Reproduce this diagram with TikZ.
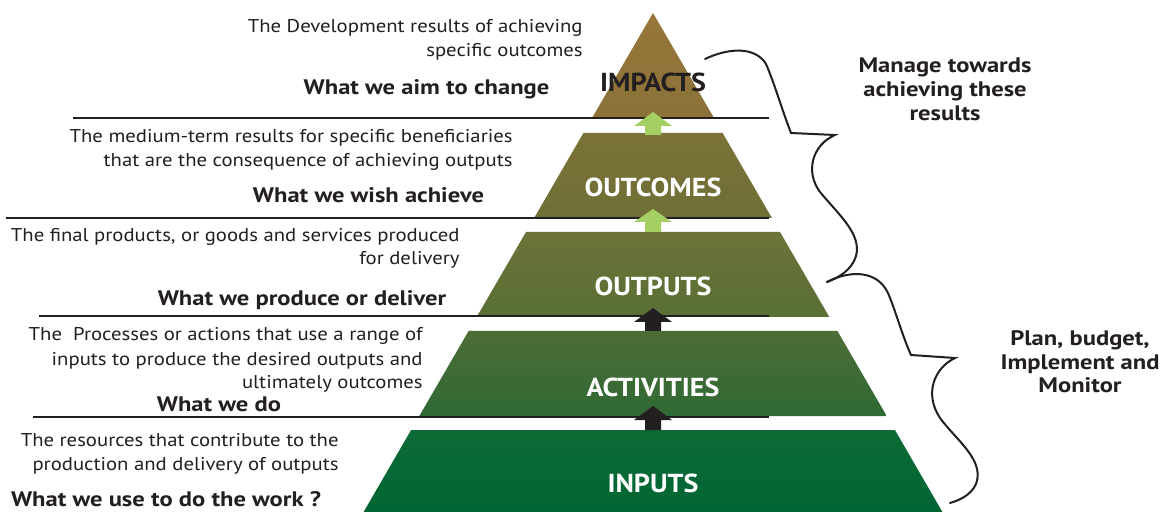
\documentclass[tikz,border=0pt]{standalone}
\usepackage{fontspec}
\setmainfont{PT Sans}
\newfontfamily\regfont{PT Sans}[FakeStretch=1.12]
\newfontfamily\lblfont{PT Sans}[FakeStretch=1.17]
\newfontfamily\lvlfont{PT Sans}[FakeStretch=1.08]
\definecolor{txt}{HTML}{231F20}
\definecolor{arrG}{HTML}{A6CF63}
\definecolor{impT}{HTML}{987639}
\definecolor{impB}{HTML}{8A7239}
\definecolor{outcT}{HTML}{7B7238}
\definecolor{outcB}{HTML}{6E6F36}
\definecolor{outpT}{HTML}{6D7339}
\definecolor{outpB}{HTML}{586F34}
\definecolor{actT}{HTML}{4E6C35}
\definecolor{actB}{HTML}{2F6935}
\definecolor{inT}{HTML}{0D6A35}
\definecolor{inB}{HTML}{006633}
\begin{document}
\begin{tikzpicture}[x=0.5pt,y=-0.5pt,
  desc/.style={font=\regfont\fontsize{9.25}{12}\selectfont, inner sep=0pt, anchor=base east, text=txt},
  lbl/.style={font=\lblfont\bfseries\fontsize{10.5}{13}\selectfont, inner sep=0pt, anchor=base, text=txt},
  lvl/.style={font=\lvlfont\bfseries\fontsize{13}{15}\selectfont, inner sep=0pt, anchor=base, text=white},
  sepline/.style={draw=txt, line width=0.75pt},
  brace/.style={draw=txt, line width=1pt, line join=miter, line cap=round}]
\fill[white] (0,0) rectangle (1165,512);
\useasboundingbox (0,0) rectangle (1165,512);

% pyramid levels
\shade[top color=impT, bottom color=impB] (653,13) -- (714,118) -- (592,118) -- cycle;
\shade[top color=outcT, bottom color=outcB] (583.4,133) -- (722.6,133) -- (771.9,218) -- (534.1,218) -- cycle;
\shade[top color=outpT, bottom color=outpB] (526,232) -- (780,232) -- (829.3,317) -- (476.7,317) -- cycle;
\shade[top color=actT, bottom color=actB] (468.6,331) -- (837.4,331) -- (886.7,416) -- (419.3,416) -- cycle;
\shade[top color=inT, bottom color=inB] (411.1,430) -- (894.9,430) -- (942.4,512) -- (363.6,512) -- cycle;

% separator lines
\draw[sepline] (73,118) -- (769,118);
\draw[sepline] (6,218) -- (769,218);
\draw[sepline] (39,316) -- (769,316);
\draw[sepline] (33,417) -- (769,417);

% arrows between levels
\fill[arrG] (653,112) -- (672,126) -- (661,126) -- (661,135) -- (645,135) -- (645,126) -- (634,126) -- cycle;
\fill[arrG] (653,209) -- (672,222) -- (661,222) -- (661,232) -- (645,232) -- (645,222) -- (634,222) -- cycle;
\fill[txt] (653,308) -- (672,322) -- (661,322) -- (661,331) -- (645,331) -- (645,322) -- (634,322) -- cycle;
\fill[txt] (653,406) -- (672,420) -- (661,420) -- (661,430) -- (645,430) -- (645,420) -- (634,420) -- cycle;

% level names
\node[lvl, text=txt] (impacts) at (653,92) {IMPACTS};
\node[lvl] (outcomes) at (653,197) {OUTCOMES};
\node[lvl] (outputs) at (653,296) {OUTPUTS};
\node[lvl] (activities) at (653,396) {ACTIVITIES};
\node[lvl] (inputs) at (653,492) {INPUTS};

% descriptions
\node[desc] (d1a) at (583,33) {The Development results of achieving};
\node[desc] (d1b) at (583,57) {specific outcomes};
\node[desc] (d2a) at (513,143) {The medium-term results for specific beneficiaries};
\node[desc] (d2b) at (513,167) {that are the consequence of achieving outputs};
\node[desc] (d3a) at (460,242) {The final products, or goods and services produced};
\node[desc] (d3b) at (460,265) {for delivery};
\node[desc] (d4a) at (423,341) {The\ \ Processes or actions that use a range of};
\node[desc] (d4b) at (423,365) {inputs to produce the desired outputs and};
\node[desc] (d4c) at (423,388) {ultimately outcomes};
\node[desc] (d5a) at (339,446) {The resources that contribute to the};
\node[desc] (d5b) at (339,470) {production and delivery of outputs};

% bold labels
\node[lbl] (l1) at (426.5,95) {What we aim to change};
\node[lbl] (l2) at (368.5,203) {What we wish achieve};
\node[lbl] (l3) at (302,306) {What we produce or deliver};
\node[lbl] (l4) at (219,411) {What we do};
\node[lbl] (l5) at (166,506) {What we use to do the work ?};

% braces
\draw[brace] (705,59) .. controls (728,48) and (755,46) .. (766,64)
  .. controls (775,85) and (782,110) .. (791,133)
  -- (835,135)
  .. controls (812,145) and (805,172) .. (820,192)
  .. controls (838,214) and (862,234) .. (856,256)
  .. controls (852,270) and (838,278) .. (827,282);
\draw[brace] (827,282) .. controls (850,270) and (877,270) .. (888,293)
  .. controls (896,312) and (902,335) .. (911,355)
  -- (955,358)
  .. controls (934,368) and (924,394) .. (940,418)
  .. controls (956,440) and (985,460) .. (976,484)
  .. controls (971,495) and (960,500) .. (950,503);

% right labels
\node[lbl] (r1a) at (945,73) {Manage towards};
\node[lbl] (r1b) at (945,97) {achieving these};
\node[lbl] (r1c) at (945,121) {results};
\node[lbl] (r2a) at (1080,346) {Plan, budget,};
\node[lbl] (r2b) at (1080,370) {Implement and};
\node[lbl] (r2c) at (1080,393) {Monitor};
\end{tikzpicture}
\end{document}
